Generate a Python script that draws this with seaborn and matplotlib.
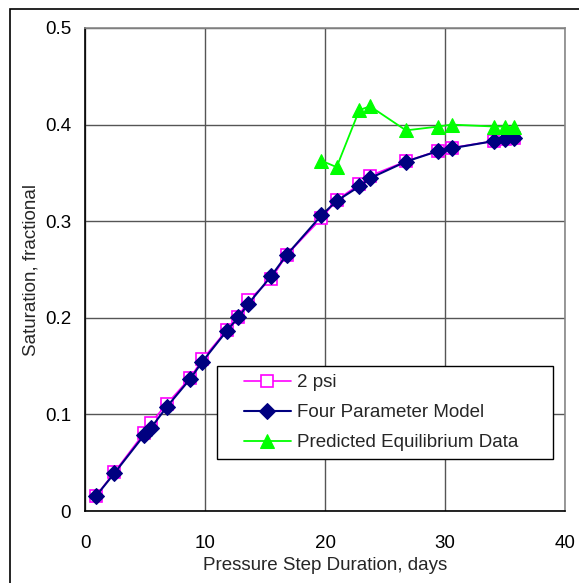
import matplotlib
matplotlib.use("Agg")
import matplotlib.pyplot as plt
import seaborn as sns
from matplotlib.patches import Rectangle

sns.set_style("white")
plt.rcParams['font.family'] = ['Liberation Sans', 'DejaVu Sans']

# Data
days = [0.92, 2.44, 4.94, 5.47, 6.83, 8.78, 9.78, 11.8, 12.78, 13.6, 15.5, 16.8,
        19.7, 20.97, 22.86, 23.75, 26.75, 29.44, 30.56, 34.1, 35.0, 35.78]
sat_2psi = [0.0155, 0.040, 0.081, 0.091, 0.111, 0.138, 0.157, 0.187, 0.201, 0.218,
            0.240, 0.265, 0.303, 0.322, 0.338, 0.347, 0.362, 0.373, 0.376, 0.383,
            0.385, 0.386]
sat_model = [0.0155, 0.039, 0.0787, 0.0856, 0.108, 0.137, 0.1546, 0.1863, 0.2005,
             0.2143, 0.243, 0.265, 0.306, 0.321, 0.336, 0.3445, 0.3617, 0.3727,
             0.3755, 0.383, 0.3848, 0.3858]
eq_days = [19.7, 20.97, 22.86, 23.75, 26.75, 29.44, 30.56, 34.1, 35.0, 35.78]
sat_eq = [0.3626, 0.356, 0.415, 0.419, 0.394, 0.398, 0.400, 0.398, 0.398, 0.397]

x_ticks = [0, 10, 20, 30, 40]
y_ticks = [0, 0.1, 0.2, 0.3, 0.4, 0.5]
y_tick_labels = ["0", "0.1", "0.2", "0.3", "0.4", "0.5"]

FS = 13.5
W, H = 579, 583
fig = plt.figure(figsize=(W/100, H/100), dpi=100)
AX_L, AX_B, AX_W, AX_H = 85, 511, 480, 483
ax = fig.add_axes([AX_L/W, 1-AX_B/H, AX_W/W, AX_H/H])

# Figure outer frame
fig.patches.append(Rectangle((10/W, -0.05), 1.1, 1-9/H+0.05, transform=fig.transFigure,
                             fill=False, edgecolor='black', linewidth=1.2))

sns.lineplot(x=days, y=sat_2psi, ax=ax, sort=False, color='#ff00ff', linewidth=1.2,
             marker='s', markersize=8, markerfacecolor='white', markeredgecolor='#ff00ff',
             markeredgewidth=1.2, label='2 psi', zorder=3)
sns.lineplot(x=days, y=sat_model, ax=ax, sort=False, color='#000080', linewidth=1.5,
             marker='D', markersize=8.5, markerfacecolor='#000080', markeredgecolor='#000080',
             label='Four Parameter Model', zorder=4)
sns.lineplot(x=eq_days, y=sat_eq, ax=ax, sort=False, color='#00ff00', linewidth=1.3,
             marker='^', markersize=10, markerfacecolor='#00ff00', markeredgecolor='#00ff00',
             label='Predicted Equilibrium Data', zorder=5)

ax.set_xlim(0, 40)
ax.set_ylim(0, 0.5)
ax.set_xticks(x_ticks)
ax.set_yticks(y_ticks)
ax.set_yticklabels(y_tick_labels)
ax.grid(True, color='#555555', linewidth=1.0)
ax.set_axisbelow(True)
ax.tick_params(axis='both', labelsize=FS, colors='black', length=0)
ax.tick_params(axis='y', pad=10)
ax.tick_params(axis='x', pad=17)

for side in ['left', 'bottom']:
    ax.spines[side].set_color('black')
    ax.spines[side].set_linewidth(1.2)
for side in ['top', 'right']:
    ax.spines[side].set_color('#888888')
    ax.spines[side].set_linewidth(1.2)
    ax.spines[side].set_visible(True)

ax.set_xlabel('Pressure Step Duration, days', fontsize=FS, labelpad=4)
ax.set_ylabel('Saturation, fractional', fontsize=FS, labelpad=4)

# Legend box
ax.add_patch(Rectangle(((217-AX_L)/AX_W, (AX_B-459)/AX_H), 336/AX_W, 93/AX_H,
                       transform=ax.transAxes, facecolor='white', edgecolor='black',
                       linewidth=1.0, zorder=6))
leg = ax.legend(loc='upper left', bbox_to_anchor=((244-AX_L)/AX_W, (AX_B-374)/AX_H),
                frameon=False, fontsize=FS, borderaxespad=0, borderpad=0,
                handlelength=2.5, handletextpad=0.35, labelspacing=0.69)
leg.set_zorder(7)

fig.savefig('out.png', dpi=100)
